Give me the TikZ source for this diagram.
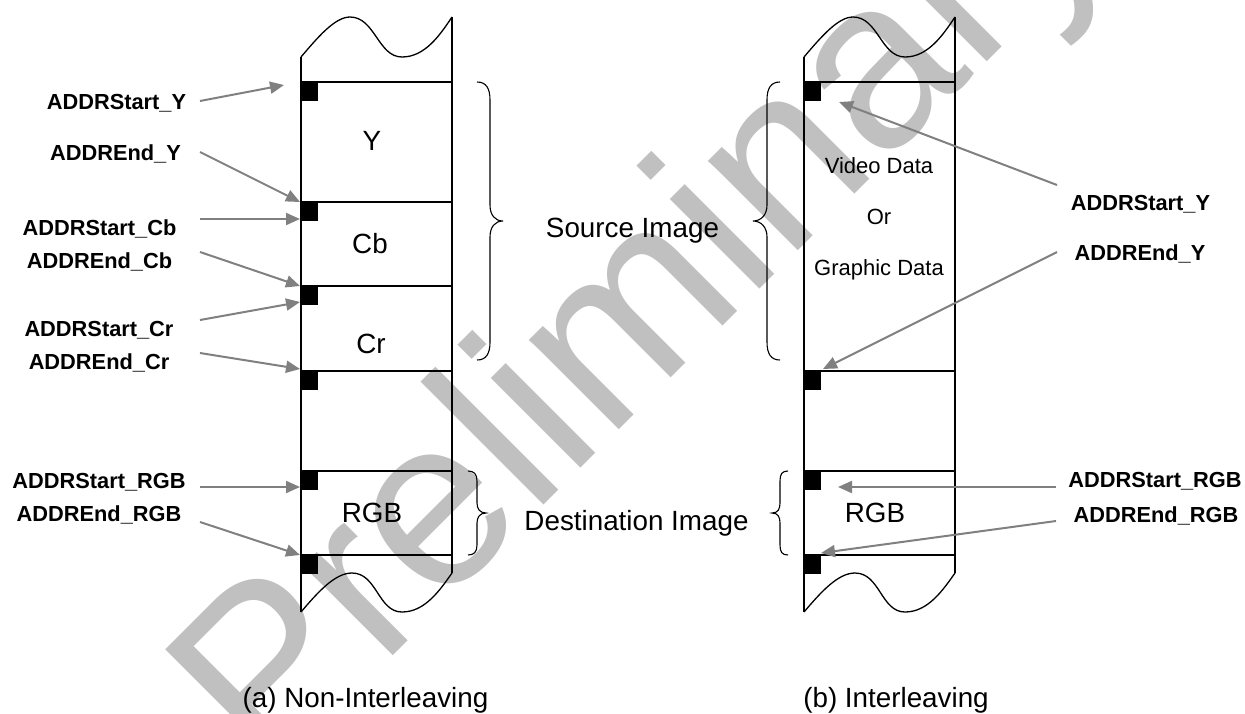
\documentclass[tikz,border=0pt]{standalone}
\usepackage{fontspec}
\setmainfont{Liberation Sans}
\usetikzlibrary{arrows.meta}
\definecolor{wmgray}{RGB}{192,192,192}
\definecolor{arrgray}{RGB}{128,128,128}
\begin{document}
\begin{tikzpicture}[x=1pt,y=-1pt,
  lbl/.style={font=\fontsize{21.8}{24}\selectfont\bfseries, inner sep=0pt, anchor=base},
  big/.style={font=\fontsize{27.8}{30}\selectfont, inner sep=0pt, anchor=base},
  mid/.style={font=\fontsize{22}{24}\selectfont, inner sep=0pt, anchor=base},
  wmtext/.style={font=\fontsize{240}{240}\selectfont, text=wmgray, rotate=45, anchor=base west, inner sep=0pt},
  colline/.style={line width=1.3pt, draw=black},
  brc/.style={line width=1.1pt, draw=black},
  ptr/.style={line width=2pt, draw=arrgray, -{Triangle[length=14pt,width=12pt]}},
  blk/.style={fill=black}
]
\path[use as bounding box, clip] (0,0) rectangle (1245,713);

% watermark
\node[wmtext] (wm) at (268,781) {Preliminary};

% memory columns
\foreach \s in {0,503}{
\begin{scope}[xshift=\s pt]
  \draw[colline] (301,57) -- (301,612);
  \draw[colline] (452,17) -- (452,573);
  \draw[colline] (301,57) .. controls (318,37) and (335,17) .. (350,17)
     .. controls (375,17) and (378,57) .. (402,57)
     .. controls (425,57) and (440,35) .. (452,17);
  \draw[colline] (301,612) .. controls (318,592) and (335,573) .. (352,573)
     .. controls (377,573) and (378,612) .. (402,612)
     .. controls (425,612) and (440,590) .. (452,573);
  \foreach \yy in {82,371,471,555}{
    \draw[colline] (301,\yy) -- (452,\yy);
    \fill[blk] (301,\yy) rectangle (318,\yy+19);
  }
\end{scope}
}
\foreach \yy in {202,286}{
  \draw[colline] (301,\yy) -- (452,\yy);
  \fill[blk] (301,\yy) rectangle (318,\yy+19);
}

% braces
\draw[brc] (477,82) .. controls (486,82) and (490,88) .. (490,100) -- (490,205)
   .. controls (490,215) and (495,221) .. (503,221)
   .. controls (495,221) and (490,227) .. (490,237) -- (490,342)
   .. controls (490,354) and (486,360) .. (477,360);
\draw[brc] (780,82) .. controls (771,82) and (767,88) .. (767,100) -- (767,205)
   .. controls (767,215) and (761,221) .. (753,221)
   .. controls (761,221) and (767,227) .. (767,237) -- (767,342)
   .. controls (767,354) and (771,360) .. (780,360);
\draw[brc] (468,471) .. controls (474,471) and (477,474) .. (477,481) -- (477,503)
   .. controls (477,509) and (480,513) .. (486,513)
   .. controls (480,513) and (477,517) .. (477,523) -- (477,545)
   .. controls (477,552) and (474,555) .. (468,555);
\draw[brc] (788,471) .. controls (782,471) and (780,474) .. (780,481) -- (780,503)
   .. controls (780,509) and (778,513) .. (772,513)
   .. controls (778,513) and (780,517) .. (780,523) -- (780,545)
   .. controls (780,552) and (782,555) .. (788,555);

% column texts
\node[big] (ty) at (372,150) {Y};
\node[big] (tcb) at (370,253) {Cb};
\node[big] (tcr) at (371,353) {Cr};
\node[big] (trgba) at (372,522) {RGB};
\node[big] (trgbb) at (875,522) {RGB};
\node[mid] (tvid) at (879,173) {Video Data};
\node[mid] (tor) at (879,224) {Or};
\node[mid] (tgra) at (879,275) {Graphic Data};
\node[big] (src) at (632.5,237) {Source Image};
\node[big] (dst) at (636.5,530) {Destination Image};
\node[big] (capa) at (365.5,707) {(a) Non-Interleaving};
\node[big] (capb) at (896,707) {(b) Interleaving};

% left labels
\node[lbl] (lsy) at (116.5,109) {ADDRStart\_Y};
\node[lbl] (ley) at (115.5,160) {ADDREnd\_Y};
\node[lbl] (lscb) at (99.5,235) {ADDRStart\_Cb};
\node[lbl] (lecb) at (99.5,268) {ADDREnd\_Cb};
\node[lbl] (lscr) at (99,336) {ADDRStart\_Cr};
\node[lbl] (lecr) at (99,369) {ADDREnd\_Cr};
\node[lbl] (lsrgb) at (99,488) {ADDRStart\_RGB};
\node[lbl] (lergb) at (99,521) {ADDREnd\_RGB};
% right labels
\node[lbl] (rsy) at (1140.5,210) {ADDRStart\_Y};
\node[lbl] (rey) at (1140,260) {ADDREnd\_Y};
\node[lbl] (rsrgb) at (1155,487) {ADDRStart\_RGB};
\node[lbl] (rergb) at (1156,522) {ADDREnd\_RGB};

% arrow end points
\coordinate (a1s) at (200,101); \coordinate (a1t) at (284,85);
\coordinate (a2s) at (200,152); \coordinate (a2t) at (300,202);
\coordinate (a3s) at (200,219); \coordinate (a3t) at (300,219);
\coordinate (a4s) at (200,252); \coordinate (a4t) at (300,286);
\coordinate (a5s) at (200,320); \coordinate (a5t) at (300,302);
\coordinate (a6s) at (200,353); \coordinate (a6t) at (300,369);
\coordinate (a7s) at (200,487); \coordinate (a7t) at (300,487);
\coordinate (a8s) at (200,522); \coordinate (a8t) at (300,555);
\coordinate (b1s) at (1057,185); \coordinate (b1t) at (839,102);
\coordinate (b2s) at (1057,252); \coordinate (b2t) at (823,369);
\coordinate (b3s) at (1056,487); \coordinate (b3t) at (838,487);
\coordinate (b4s) at (1056,521); \coordinate (b4t) at (821,553);

\foreach \a in {a1,a2,a3,a4,a5,a6,a7,a8,b1,b2,b3,b4}{
  \draw[ptr] (\a s) -- (\a t);
}
\end{tikzpicture}
\end{document}
